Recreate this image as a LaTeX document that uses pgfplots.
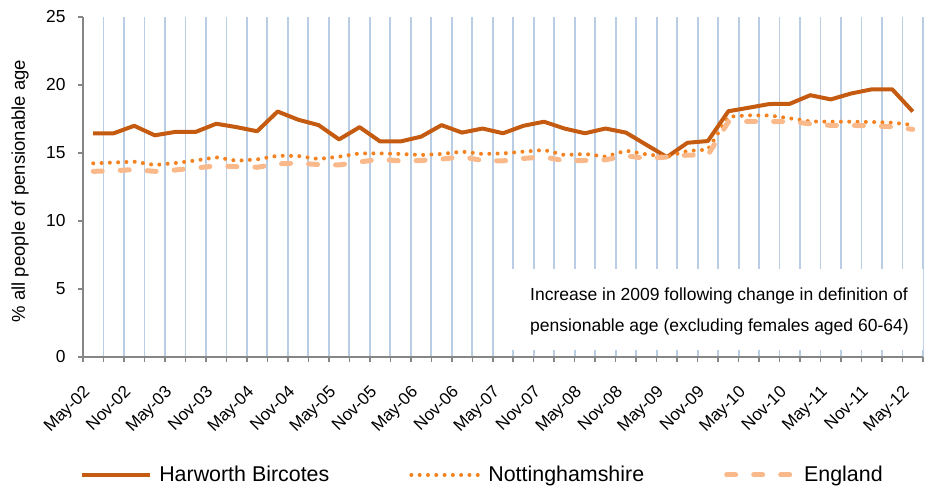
\documentclass[border=0pt]{standalone}
\usepackage{pgfplots}
\pgfplotsset{compat=1.18}
\usepackage{pgfplotstable}
\usepackage{fontspec}
\setmainfont{Liberation Sans}
\definecolor{harw}{HTML}{C55A11}
\definecolor{notts}{HTML}{F58220}
\definecolor{eng}{HTML}{F9B98A}
\definecolor{gridblue}{HTML}{B9CDE5}
\definecolor{axgray}{HTML}{868686}
\pgfplotstableread{
i H N E
0 16.45 14.24 13.65
1 16.45 14.30 13.70
2 17.00 14.36 13.78
3 16.30 14.12 13.65
4 16.55 14.26 13.75
5 16.55 14.45 13.90
6 17.15 14.68 14.05
7 16.90 14.43 14.00
8 16.60 14.53 13.95
9 18.05 14.80 14.20
10 17.45 14.78 14.25
11 17.05 14.56 14.15
12 16.00 14.73 14.12
13 16.90 14.97 14.35
14 15.85 14.97 14.53
15 15.85 14.93 14.42
16 16.20 14.85 14.45
17 17.05 14.93 14.55
18 16.50 15.10 14.72
19 16.80 14.93 14.45
20 16.45 14.97 14.42
21 17.00 15.10 14.60
22 17.30 15.22 14.72
23 16.80 14.85 14.42
24 16.45 14.93 14.45
25 16.80 14.73 14.50
26 16.50 15.17 14.80
27 15.60 14.90 14.60
28 14.70 14.73 14.70
29 15.75 15.15 14.85
30 15.88 15.25 14.85
31 18.07 17.67 17.30
32 18.33 17.77 17.32
33 18.60 17.76 17.32
34 18.62 17.55 17.30
35 19.25 17.32 17.15
36 18.94 17.30 17.03
37 19.38 17.30 17.03
38 19.68 17.28 17.00
39 19.68 17.23 16.93
40 18.05 17.06 16.74
}\datatable
\begin{document}
\begin{tikzpicture}
\path[use as bounding box] (-83pt,-132pt) rectangle (842pt,357pt);
\begin{axis}[
  scale only axis,
  width=840pt, height=340pt,
  xmin=-0.5, xmax=40.5,
  ymin=0, ymax=25,
  axis x line*=bottom,
  axis y line*=left,
  axis line style={axgray, line width=1.5pt},
  tick style={axgray, line width=1.5pt},
  tick align=outside,
  major tick length=5pt,
  xtick={-0.5,0.5,...,40.5},
  xticklabels={},
  xmajorgrids=true,
  major grid style={gridblue, line width=1.8pt},
  extra x ticks={0,2,...,40},
  extra x tick labels={May-02,Nov-02,May-03,Nov-03,May-04,Nov-04,May-05,Nov-05,May-06,Nov-06,May-07,Nov-07,May-08,Nov-08,May-09,Nov-09,May-10,Nov-10,May-11,Nov-11,May-12},
  extra x tick style={grid=none, major tick length=0pt,
    tick label style={xshift=-11pt, yshift=-27pt, rotate=45, anchor=north east, inner sep=0pt,
      font=\fontsize{17}{20}\selectfont}},
  ytick={0,5,...,25},
  yticklabel style={font=\fontsize{17.4}{20}\selectfont, /pgf/number format/assume math mode=true, xshift=-9pt},
  ylabel={\% all people of pensionable age},
  every axis y label/.style={at={(axis description cs:-0.075,0.488)}, rotate=90, anchor=center,
    font=\fontsize{18.5}{21}\selectfont},
  legend columns=3,
  legend cell align=left,
  legend image code/.code={\draw[#1] (0pt,0pt) -- (68pt,0pt);},
  legend style={draw=none, fill=none, at={(axis description cs:0.4756,-0.347)}, anchor=center,
    font=\fontsize{21.4}{24}\selectfont,
    /tikz/every odd column/.append style={column sep=5pt},
    /tikz/every even column/.append style={column sep=78pt}},
]
\addplot[harw, line width=4pt, line join=round] table[x=i, y=H] {\datatable};
\addlegendentry{Harworth Bircotes}
\addplot[notts, line width=4pt, line cap=round, dash pattern=on 0pt off 8.3pt] table[x=i, y=N] {\datatable};
\addlegendentry{Nottinghamshire}
\addplot[eng, line width=5pt, line cap=round, dash pattern=on 9pt off 18pt] table[x=i, y=E] {\datatable};
\addlegendentry{England}
\fill[white] (axis cs:20,0.5) rectangle (axis cs:40.7,6.5);
\node[anchor=base west, inner sep=0pt, font=\fontsize{17.5}{20}\selectfont] at (axis cs:21.32,4.12) {Increase in 2009 following change in definition of};
\node[anchor=base west, inner sep=0pt, font=\fontsize{17.5}{20}\selectfont] at (axis cs:21.32,1.91) {pensionable age (excluding females aged 60-64)};
\end{axis}
\end{tikzpicture}
\end{document}
